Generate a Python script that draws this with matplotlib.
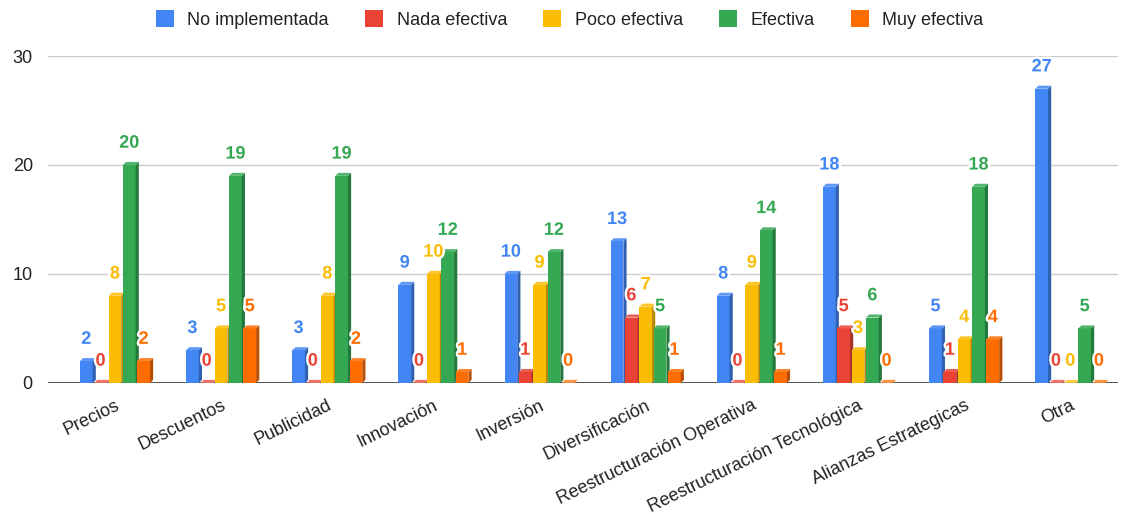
import matplotlib
import numpy as np

matplotlib.use("Agg")
import matplotlib.pyplot as plt
import matplotlib.patheffects as pe
from matplotlib.colors import to_rgb
from matplotlib.patches import Patch, Polygon

plt.rcParams["font.family"] = ["Liberation Sans", "DejaVu Sans"]

categories = [
    "Precios", "Descuentos", "Publicidad", "Innovación", "Inversión",
    "Diversificación", "Reestructuración Operativa",
    "Reestructuración Tecnológica", "Alianzas Estrategicas", "Otra",
]
series_names = ["No implementada", "Nada efectiva", "Poco efectiva", "Efectiva", "Muy efectiva"]
no_implementada = [2, 3, 3, 9, 10, 13, 8, 18, 5, 27]
nada_efectiva = [0, 0, 0, 0, 1, 6, 0, 5, 1, 0]
poco_efectiva = [8, 5, 8, 10, 9, 7, 9, 3, 4, 0]
efectiva = [20, 19, 19, 12, 12, 5, 14, 6, 18, 5]
muy_efectiva = [2, 5, 2, 1, 0, 1, 1, 0, 4, 0]
colors = ["#4285F4", "#EA4335", "#FBBC04", "#34A853", "#FF6D01"]
y_ticks = [0, 10, 20, 30]

all_series = [no_implementada, nada_efectiva, poco_efectiva, efectiva, muy_efectiva]


def shade(color, factor):
    r, g, b = to_rgb(color)
    return (r * factor, g * factor, b * factor)


def tint(color, amount):
    r, g, b = to_rgb(color)
    return (r + (1 - r) * amount, g + (1 - g) * amount, b + (1 - b) * amount)


fig = plt.figure(figsize=(11.28, 5.14), dpi=100)
ax = fig.add_axes([0.0426, 0.255, 0.9486, 0.636])

x = np.arange(len(categories))
step = 0.135
width = 0.12
# depth of the fake 3D side/top faces, in data units
dx, dy = 0.03, 0.28

for gy in y_ticks[1:]:
    ax.axhline(gy, color="#cccccc", lw=1, zorder=0)
ax.axhline(0, color="#444444", lw=1.3, zorder=1)

for i, (name, vals, c) in enumerate(zip(series_names, all_series, colors)):
    xs = x + (i - 2) * step - width / 2
    ax.bar(xs, vals, width, align="edge", color=c, zorder=3)
    for x0, v in zip(xs, vals):
        side = [(x0 + width, 0), (x0 + width + dx, dy), (x0 + width + dx, v + dy), (x0 + width, v)]
        top = [(x0, v), (x0 + width, v), (x0 + width + dx, v + dy), (x0 + dx, v + dy)]
        if v > 0:
            ax.add_patch(Polygon(side, closed=True, color=shade(c, 0.72), lw=0, zorder=3))
            ax.add_patch(Polygon(top, closed=True, color=tint(c, 0.15), lw=0, zorder=3))
        else:
            ax.add_patch(Polygon(top, closed=True, color=tint(c, 0.25), lw=0, zorder=3))
        ax.text(
            x0 + width / 2, v + 2.0, f"{v}", ha="center", va="center",
            fontsize=13, fontweight="bold", color=c, zorder=5,
            path_effects=[pe.withStroke(linewidth=3.5, foreground="white")],
        )

ax.set_xlim(-0.63, 9.45)
ax.set_ylim(0, 30)
ax.set_yticks(y_ticks)
ax.set_xticks(x)
ax.set_xticklabels(categories, rotation=26, ha="right", rotation_mode="anchor")
ax.tick_params(axis="x", length=0, pad=10, labelsize=13, labelcolor="#222222")
ax.tick_params(axis="y", length=0, pad=11, labelsize=13, labelcolor="#222222")
for s in ax.spines.values():
    s.set_visible(False)

handles = [Patch(facecolor=c, label=n) for c, n in zip(colors, series_names)]
fig.legend(
    handles=handles, loc="center", bbox_to_anchor=(0.505, 0.962), ncol=5,
    frameon=False, fontsize=13, handlelength=1.0, handleheight=1.0,
    handletextpad=0.75, columnspacing=2.0, labelcolor="#222222",
)

fig.savefig("out.png", dpi=100)
